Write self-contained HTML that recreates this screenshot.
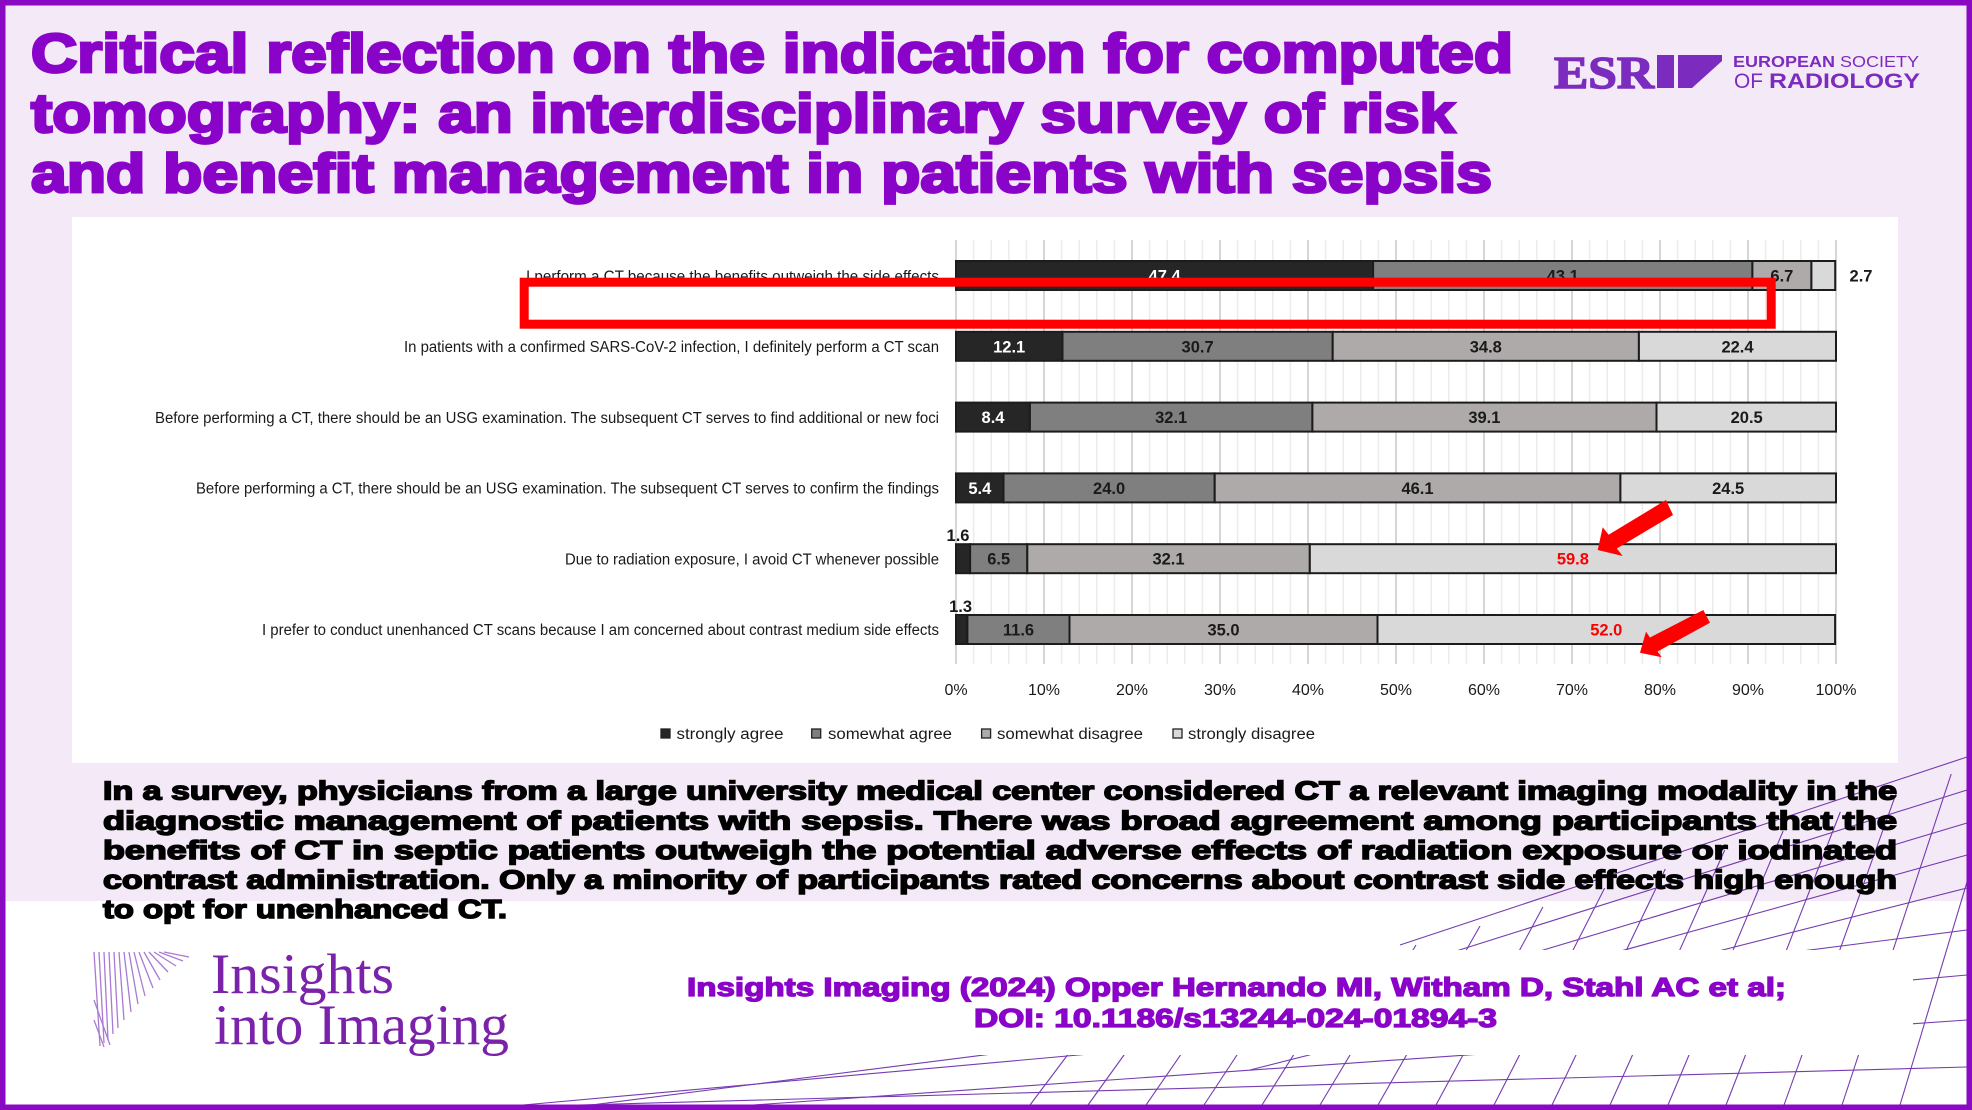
<!DOCTYPE html>
<html><head><meta charset="utf-8"><style>html,body{margin:0;padding:0;width:1972px;height:1110px;overflow:hidden;background:#fff}svg{display:block}</style></head>
<body>
<svg width="1972" height="1110" viewBox="0 0 1972 1110" xmlns="http://www.w3.org/2000/svg" font-family="'Liberation Sans', Arial, sans-serif">
<rect x="0" y="0" width="1972" height="1110" fill="#ffffff"/>
<rect x="0" y="0" width="1972" height="901" fill="#f4eaf7"/>

<!-- decorative lines -->
<g stroke="#5e1aa3" stroke-width="1.1" fill="none" opacity="0.85">
<line x1="1030" y1="1105" x2="1078.8" y2="1040"/>
<line x1="1088" y1="1105" x2="1148.5" y2="1021"/>
<line x1="1146" y1="1105" x2="1217.1" y2="1002"/>
<line x1="1204" y1="1105" x2="1284.5" y2="983"/>
<line x1="1262" y1="1105" x2="1350.8" y2="964"/>
<line x1="1320" y1="1105" x2="1416" y2="945"/>
<line x1="1378" y1="1105" x2="1480" y2="926"/>
<line x1="1436" y1="1105" x2="1542.9" y2="907"/>
<line x1="1494" y1="1105" x2="1604.7" y2="888"/>
<line x1="1552" y1="1105" x2="1665.3" y2="869"/>
<line x1="1610" y1="1105" x2="1724.8" y2="850"/>
<line x1="1668" y1="1105" x2="1783.1" y2="831"/>
<line x1="1726" y1="1105" x2="1840.3" y2="812"/>
<line x1="1784" y1="1105" x2="1896.3" y2="793"/>
<line x1="1842" y1="1105" x2="1951.2" y2="774"/>
<line x1="1900" y1="1105" x2="1967" y2="882"/>
<line x1="1400" y1="945" x2="1967" y2="757"/>
<line x1="1380" y1="975" x2="1967" y2="790"/>
<line x1="1360" y1="1005" x2="1967" y2="823"/>
<line x1="1300" y1="1040" x2="1967" y2="855"/>
<line x1="1250" y1="1070" x2="1967" y2="888"/>
<line x1="591" y1="1105" x2="1967" y2="930"/>
<line x1="523" y1="1105" x2="1967" y2="975"/>
<line x1="753" y1="1105" x2="1967" y2="1020"/>
<line x1="579" y1="1105" x2="1967" y2="1067"/>
</g>

<!-- chart panel -->
<rect x="72" y="217" width="1826" height="546" fill="#ffffff"/>
<!-- citation white box -->
<rect x="680" y="950" width="1233" height="105" fill="#ffffff"/>

<!-- Title -->
<g font-weight="bold" fill="#8a03c8" stroke="#8a03c8" stroke-width="2.8" font-size="55">
<text x="31" y="72" textLength="1482" lengthAdjust="spacingAndGlyphs">Critical reflection on the indication for computed</text>
<text x="31" y="132" textLength="1424" lengthAdjust="spacingAndGlyphs">tomography: an interdisciplinary survey of risk</text>
<text x="31" y="192" textLength="1461" lengthAdjust="spacingAndGlyphs">and benefit management in patients with sepsis</text>
</g>

<!-- ESR logo -->
<g fill="#7b2cbf">
<text x="1554" y="88" font-family="'Liberation Serif', serif" font-weight="bold" font-size="46" textLength="100" lengthAdjust="spacingAndGlyphs" stroke="#7b2cbf" stroke-width="1.5">ESR</text>
<rect x="1657" y="55" width="17" height="33"/>
<polygon points="1678,55 1722,55 1722,61 1692,88 1678,88"/>
<text x="1733" y="67" font-size="15.5" font-weight="bold" textLength="102" lengthAdjust="spacingAndGlyphs">EUROPEAN</text>
<text x="1840" y="67" font-size="15.5" textLength="79" lengthAdjust="spacingAndGlyphs">SOCIETY</text>
<text x="1734" y="88" font-size="21" textLength="29" lengthAdjust="spacingAndGlyphs">OF</text>
<text x="1769" y="88" font-size="21" font-weight="bold" textLength="151" lengthAdjust="spacingAndGlyphs">RADIOLOGY</text>
</g>

<!-- gridlines -->
<path d="M973.6 240V664M991.2 240V664M1008.8 240V664M1026.4 240V664M1061.6 240V664M1079.2 240V664M1096.8 240V664M1114.4 240V664M1149.6 240V664M1167.2 240V664M1184.8 240V664M1202.4 240V664M1237.6 240V664M1255.2 240V664M1272.8 240V664M1290.4 240V664M1325.6 240V664M1343.2 240V664M1360.8 240V664M1378.4 240V664M1413.6 240V664M1431.2 240V664M1448.8 240V664M1466.4 240V664M1501.6 240V664M1519.2 240V664M1536.8 240V664M1554.4 240V664M1589.6 240V664M1607.2 240V664M1624.8 240V664M1642.4 240V664M1677.6 240V664M1695.2 240V664M1712.8 240V664M1730.4 240V664M1765.6 240V664M1783.2 240V664M1800.8 240V664M1818.4 240V664" stroke="#ececec" stroke-width="1.5"/>
<path d="M956 240V664M1044 240V664M1132 240V664M1220 240V664M1308 240V664M1396 240V664M1484 240V664M1572 240V664M1660 240V664M1748 240V664M1836 240V664" stroke="#d6d6d6" stroke-width="2"/>

<!-- bars -->
<g stroke="#1c1c1c" stroke-width="2">
<rect x="956" y="261" width="417.1" height="29" fill="#262626"/>
<rect x="1373.1" y="261" width="379.3" height="29" fill="#7f7f7f"/>
<rect x="1752.4" y="261" width="59" height="29" fill="#aeaaaa"/>
<rect x="1811.4" y="261" width="23.8" height="29" fill="#d9d9d9"/>

<rect x="956" y="331.8" width="106.5" height="29" fill="#262626"/>
<rect x="1062.5" y="331.8" width="270.2" height="29" fill="#7f7f7f"/>
<rect x="1332.7" y="331.8" width="306.2" height="29" fill="#aeaaaa"/>
<rect x="1638.9" y="331.8" width="197.1" height="29" fill="#d9d9d9"/>

<rect x="956" y="402.6" width="73.9" height="29" fill="#262626"/>
<rect x="1029.9" y="402.6" width="282.5" height="29" fill="#7f7f7f"/>
<rect x="1312.4" y="402.6" width="344.1" height="29" fill="#aeaaaa"/>
<rect x="1656.5" y="402.6" width="179.5" height="29" fill="#d9d9d9"/>

<rect x="956" y="473.4" width="47.5" height="29" fill="#262626"/>
<rect x="1003.5" y="473.4" width="211.2" height="29" fill="#7f7f7f"/>
<rect x="1214.7" y="473.4" width="405.7" height="29" fill="#aeaaaa"/>
<rect x="1620.4" y="473.4" width="215.6" height="29" fill="#d9d9d9"/>

<rect x="956" y="544.2" width="14.1" height="29" fill="#262626"/>
<rect x="970.1" y="544.2" width="57.2" height="29" fill="#7f7f7f"/>
<rect x="1027.3" y="544.2" width="282.5" height="29" fill="#aeaaaa"/>
<rect x="1309.8" y="544.2" width="526.2" height="29" fill="#d9d9d9"/>

<rect x="956" y="615" width="11.4" height="29" fill="#262626"/>
<rect x="967.4" y="615" width="102.1" height="29" fill="#7f7f7f"/>
<rect x="1069.5" y="615" width="308" height="29" fill="#aeaaaa"/>
<rect x="1377.5" y="615" width="457.6" height="29" fill="#d9d9d9"/>
</g>

<!-- bar value labels -->
<g font-size="16.5" font-weight="bold" text-anchor="middle" fill="#1a1a1a">
<text x="1164.6" y="281.5" fill="#ffffff">47.4</text>
<text x="1562.8" y="281.5">43.1</text>
<text x="1781.9" y="281.5">6.7</text>
<text x="1861" y="281.5">2.7</text>

<text x="1009.2" y="352.3" fill="#ffffff">12.1</text>
<text x="1197.6" y="352.3">30.7</text>
<text x="1485.8" y="352.3">34.8</text>
<text x="1737.5" y="352.3">22.4</text>

<text x="993" y="423.1" fill="#ffffff">8.4</text>
<text x="1171.2" y="423.1">32.1</text>
<text x="1484.4" y="423.1">39.1</text>
<text x="1746.7" y="423.1">20.5</text>

<text x="979.8" y="493.9" fill="#ffffff">5.4</text>
<text x="1109.1" y="493.9">24.0</text>
<text x="1417.5" y="493.9">46.1</text>
<text x="1728.2" y="493.9">24.5</text>

<text x="958" y="541">1.6</text>
<text x="998.7" y="564.7">6.5</text>
<text x="1168.5" y="564.7">32.1</text>
<text x="1572.9" y="564.7" fill="#ff0000">59.8</text>

<text x="960.6" y="612">1.3</text>
<text x="1018.5" y="635.5">11.6</text>
<text x="1223.5" y="635.5">35.0</text>
<text x="1606.3" y="635.5" fill="#ff0000">52.0</text>
</g>

<!-- category labels -->
<g font-size="15.5" fill="#1a1a1a" text-anchor="end">
<text x="939" y="281.5" textLength="413" lengthAdjust="spacingAndGlyphs">I perform a CT because the benefits outweigh the side effects</text>
<text x="939" y="352" textLength="535" lengthAdjust="spacingAndGlyphs">In patients with a confirmed SARS-CoV-2 infection, I definitely perform a CT scan</text>
<text x="939" y="422.8" textLength="784" lengthAdjust="spacingAndGlyphs">Before performing a CT, there should be an USG examination. The subsequent CT serves to find additional or new foci</text>
<text x="939" y="493.6" textLength="743" lengthAdjust="spacingAndGlyphs">Before performing a CT, there should be an USG examination. The subsequent CT serves to confirm the findings</text>
<text x="939" y="564.4" textLength="374" lengthAdjust="spacingAndGlyphs">Due to radiation exposure, I avoid CT whenever possible</text>
<text x="939" y="635.2" textLength="677" lengthAdjust="spacingAndGlyphs">I prefer to conduct unenhanced CT scans because I am concerned about contrast medium side effects</text>
</g>

<!-- axis tick labels -->
<g font-size="16" fill="#1a1a1a" text-anchor="middle">
<text x="956" y="695">0%</text>
<text x="1044" y="695">10%</text>
<text x="1132" y="695">20%</text>
<text x="1220" y="695">30%</text>
<text x="1308" y="695">40%</text>
<text x="1396" y="695">50%</text>
<text x="1484" y="695">60%</text>
<text x="1572" y="695">70%</text>
<text x="1660" y="695">80%</text>
<text x="1748" y="695">90%</text>
<text x="1836" y="695">100%</text>
</g>

<!-- legend -->
<g stroke="#222" stroke-width="1.3">
<rect x="661" y="729" width="9" height="9" fill="#262626"/>
<rect x="811.7" y="729" width="9" height="9" fill="#7f7f7f"/>
<rect x="981.6" y="729" width="9" height="9" fill="#aeaaaa"/>
<rect x="1173" y="729" width="9" height="9" fill="#d9d9d9"/>
</g>
<g font-size="15.5" fill="#1a1a1a">
<text x="676.5" y="739" textLength="107" lengthAdjust="spacingAndGlyphs">strongly agree</text>
<text x="828" y="739" textLength="124" lengthAdjust="spacingAndGlyphs">somewhat agree</text>
<text x="997" y="739" textLength="146" lengthAdjust="spacingAndGlyphs">somewhat disagree</text>
<text x="1188" y="739" textLength="127" lengthAdjust="spacingAndGlyphs">strongly disagree</text>
</g>

<!-- red highlight rectangle -->
<rect x="524.2" y="282.2" width="1247" height="42" fill="none" stroke="#ff0000" stroke-width="9"/>

<!-- red arrows -->
<polygon points="1597.7,550 1602.7,527.3 1608.6,534.7 1666,500 1673,515 1616.8,548.5 1622.7,556" fill="#ff0000"/>
<polygon points="1640,652.7 1646,631.7 1650,637.5 1703.3,610 1710,622.7 1657.6,651.5 1661.7,657.3" fill="#ff0000"/>

<!-- summary -->
<g font-weight="bold" font-size="26" fill="#000" stroke="#000" stroke-width="1.5">
<text x="103" y="799.5" textLength="1794" lengthAdjust="spacingAndGlyphs">In a survey, physicians from a large university medical center considered CT a relevant imaging modality in the</text>
<text x="103" y="829.3" textLength="1794" lengthAdjust="spacingAndGlyphs">diagnostic management of patients with sepsis. There was broad agreement among participants that the</text>
<text x="103" y="859" textLength="1794" lengthAdjust="spacingAndGlyphs">benefits of CT in septic patients outweigh the potential adverse effects of radiation exposure or iodinated</text>
<text x="103" y="888.5" textLength="1794" lengthAdjust="spacingAndGlyphs">contrast administration. Only a minority of participants rated concerns about contrast side effects high enough</text>
<text x="103" y="918" textLength="404" lengthAdjust="spacingAndGlyphs">to opt for unenhanced CT.</text>
</g>

<!-- Insights into Imaging logo -->
<g stroke="#9a63cc" stroke-width="1.3" opacity="0.85">
<line x1="94" y1="952" x2="100" y2="1046"/>
<line x1="99" y1="952" x2="104" y2="1043"/>
<line x1="104" y1="952" x2="108" y2="1040"/>
<line x1="109" y1="952" x2="113" y2="1034"/>
<line x1="114" y1="952" x2="118" y2="1028"/>
<line x1="119" y1="952" x2="124" y2="1020"/>
<line x1="124" y1="952" x2="131" y2="1012"/>
<line x1="129" y1="952" x2="138" y2="1004"/>
<line x1="134" y1="952" x2="145" y2="996"/>
<line x1="139" y1="952" x2="153" y2="988"/>
<line x1="144" y1="952" x2="160" y2="980"/>
<line x1="149" y1="952" x2="168" y2="972"/>
<line x1="154" y1="952" x2="176" y2="966"/>
<line x1="159" y1="952" x2="183" y2="961"/>
<line x1="164" y1="952" x2="189" y2="957"/>
<line x1="94" y1="1000" x2="110" y2="1045"/>
<line x1="94" y1="1020" x2="104" y2="1047"/>
</g>
<g font-family="'Liberation Serif', serif" fill="#7a22aa">
<text x="211" y="993" font-size="57" textLength="183" lengthAdjust="spacingAndGlyphs">Insights</text>
<text x="214" y="1044" font-size="57" textLength="295" lengthAdjust="spacingAndGlyphs">into Imaging</text>
</g>

<!-- citation -->
<g font-weight="bold" font-size="26" fill="#8a03c8" stroke="#8a03c8" stroke-width="1.3">
<text x="687" y="996" textLength="1099" lengthAdjust="spacingAndGlyphs">Insights Imaging (2024) Opper Hernando MI, Witham D, Stahl AC et al;</text>
<text x="974" y="1027" textLength="523" lengthAdjust="spacingAndGlyphs">DOI: 10.1186/s13244-024-01894-3</text>
</g>

<!-- border -->
<rect x="2.75" y="2.75" width="1966.5" height="1104.5" fill="none" stroke="#8a0ac4" stroke-width="5.5"/>
</svg>
</body></html>
